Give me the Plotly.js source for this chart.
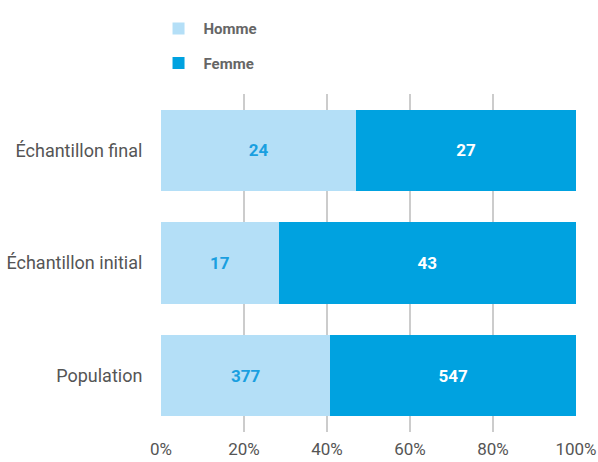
<!DOCTYPE html>
<html><head><meta charset="utf-8">
<script src="https://cdn.plot.ly/plotly-3.0.1.min.js"></script>
<style>html,body{margin:0;padding:0;background:#fff}#chart{width:598px;height:462px}</style>
</head><body><div id="chart"></div>
<script>
const categories = ['Échantillon final', 'Échantillon initial', 'Population'];
const homme = [24, 17, 377];
const femme = [27, 43, 547];
const seriesNames = ['Homme', 'Femme'];
const xTicks = [0, 20, 40, 60, 80, 100];
const xTickLabels = ['0%', '20%', '40%', '60%', '80%', '100%'];

const totals = homme.map((h, i) => h + femme[i]);
const pct = arr => arr.map((v, i) => v / totals[i] * 100);
const FONT = '"Roboto", "Liberation Sans", sans-serif';

const traces = [
  {type: 'bar', orientation: 'h', name: seriesNames[0], legendgroup: 'h',
   y: categories, x: pct(homme), text: homme.map(String), texttemplate: '%{text}',
   textposition: 'inside', insidetextanchor: 'middle', hoverinfo: 'skip',
   marker: {color: '#b4dff7', line: {width: 0}},
   textfont: {color: '#1a9fe0', size: 17, family: FONT, weight: 'bold'}},
  {type: 'bar', orientation: 'h', name: seriesNames[1], legendgroup: 'f',
   y: categories, x: pct(femme), text: femme.map(String), texttemplate: '%{text}',
   textposition: 'inside', insidetextanchor: 'middle', hoverinfo: 'skip',
   marker: {color: '#00a2e0', line: {width: 0}},
   textfont: {color: '#ffffff', size: 17, family: FONT, weight: 'bold'}}
];

const layout = {
  width: 598, height: 462,
  margin: {l: 161, r: 22, t: 93.5, b: 29.5, pad: 0},
  barmode: 'stack', bargap: 0.28,
  paper_bgcolor: '#fff', plot_bgcolor: '#fff',
  font: {family: FONT, color: '#555'},
  showlegend: true,
  legend: {x: -0.018, xanchor: 'left', y: 1.242, yanchor: 'top', traceorder: 'grouped',
           itemwidth: 40,
           tracegroupgap: 12, font: {size: 15, color: '#666', family: FONT, weight: 'bold'},
           bgcolor: 'rgba(0,0,0,0)'},
  xaxis: {range: [0, 100], tickmode: 'array', tickvals: xTicks, ticktext: xTickLabels, showgrid: true,
          gridcolor: '#cccccc', gridwidth: 1.5, zeroline: false, showline: false,
          ticks: 'outside', ticklen: 2, tickcolor: 'rgba(0,0,0,0)',
          tickfont: {size: 17, color: '#555', family: FONT}, fixedrange: true},
  yaxis: {type: 'category', categoryorder: 'array', categoryarray: categories,
          autorange: 'reversed', showgrid: false, zeroline: false, showline: false,
          ticks: 'outside', ticklen: 14, tickcolor: 'rgba(0,0,0,0)',
          tickfont: {size: 18, color: '#555', family: FONT}, fixedrange: true}
};

Plotly.newPlot('chart', traces, layout, {displayModeBar: false, staticPlot: true});
</script></body></html>
